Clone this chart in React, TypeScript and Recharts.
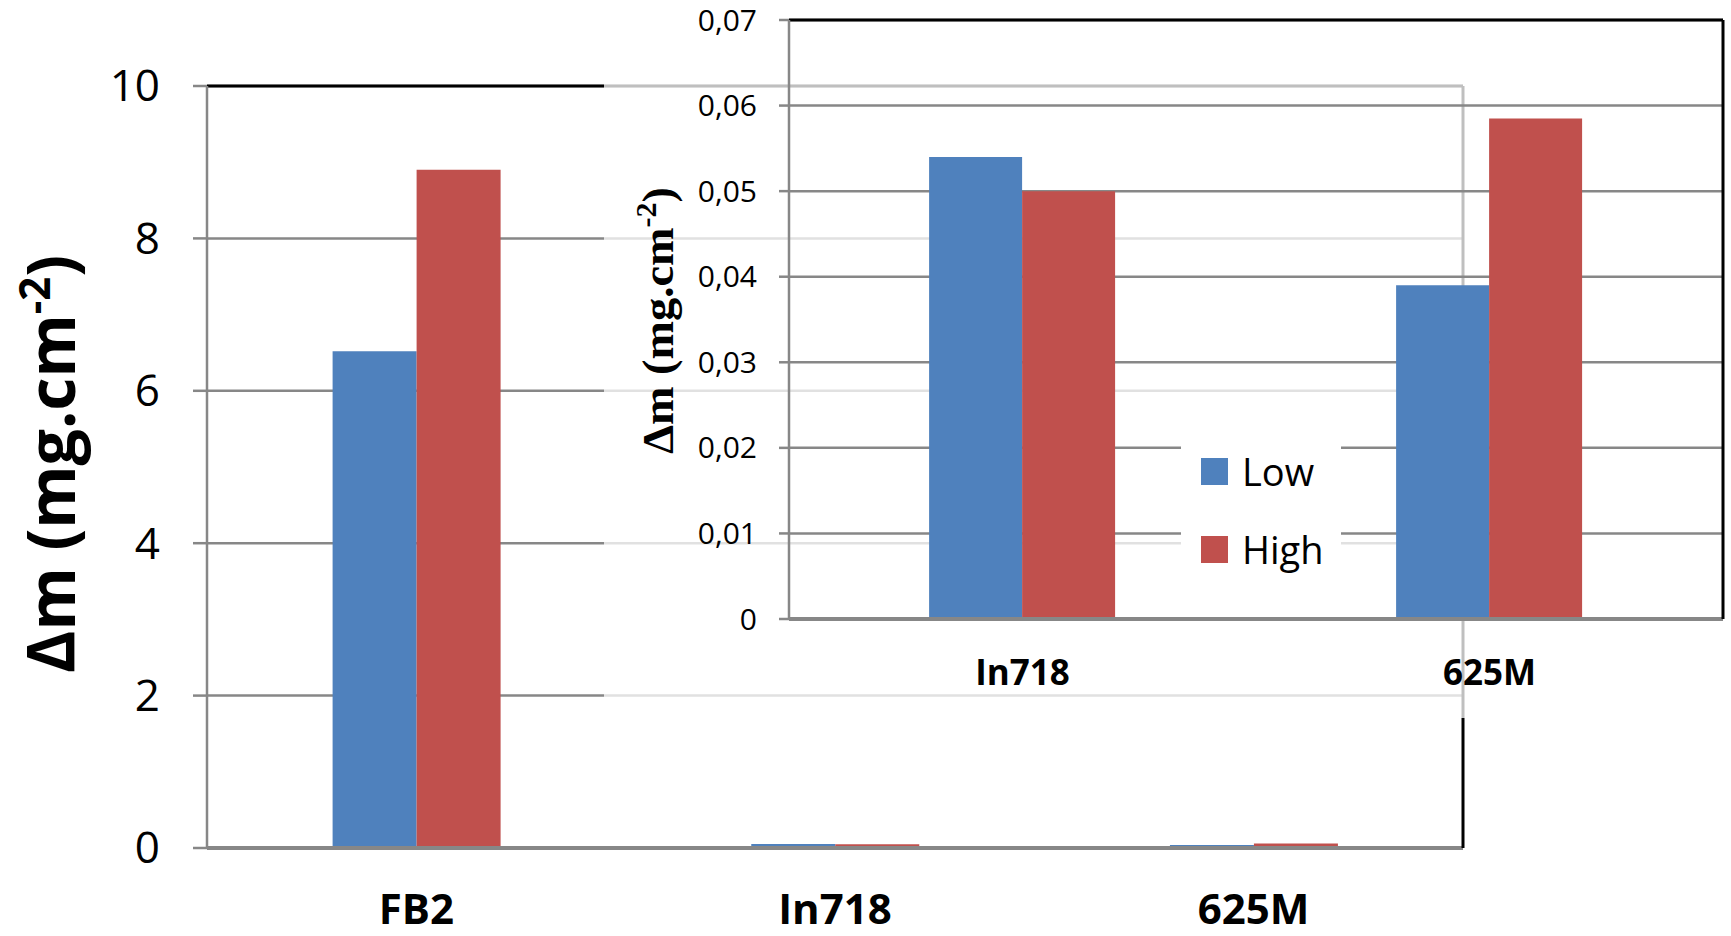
import React from 'react'
import { Bar, BarChart, CartesianGrid, XAxis, YAxis } from 'recharts'

// main chart
const categories = ['FB2', 'In718', '625M']
const lowValues = [6.52, 0.054, 0.039]
const highValues = [8.9, 0.05, 0.058]
const mainTicks = [0, 2, 4, 6, 8, 10]

// inset (zoom on the small alloys)
const insetCategories = ['In718', '625M']
const insetLow = [0.054, 0.039]
const insetHigh = [0.05, 0.0585]
const insetTicks = [0, 0.01, 0.02, 0.03, 0.04, 0.05, 0.06, 0.07]

const series = [
  { key: 'low', name: 'Low', color: '#4F81BD' },
  { key: 'high', name: 'High', color: '#C0504D' },
]

const mainData = categories.map((name, i) => ({ name, low: lowValues[i], high: highValues[i] }))
const insetData = insetCategories.map((name, i) => ({ name, low: insetLow[i], high: insetHigh[i] }))

const SANS = "'Open Sans', sans-serif"
const GRID = '#878787'

const MainYTick = (p: any) => (
  <text x={p.x} y={p.y} dy="0.35em" textAnchor="end" fontSize={44} fontFamily={SANS} fill="#000">
    {p.payload.value}
  </text>
)

const MainXTick = (p: any) => (
  <text x={p.x} y={p.y + 76} textAnchor="middle" fontSize={42} fontWeight="bold" fontFamily={SANS} fill="#000">
    {p.payload.value}
  </text>
)

const InsetYTick = (p: any) => {
  const v = p.payload.value
  const label = v === 0 ? '0' : v.toFixed(2).replace('.', ',')
  return (
    <text x={p.x} y={p.y} dy="0.35em" textAnchor="end" fontSize={30} fontFamily={SANS} fill="#000">
      {label}
    </text>
  )
}

const InsetXTick = (p: any) => (
  <text x={p.x} y={p.y + 66} textAnchor="middle" fontSize={35} fontWeight="bold" fontFamily={SANS} fill="#000">
    {p.payload.value}
  </text>
)

const RotatedLabel = ({ cx, cy, size, len, family }: any) => (
  <text
    x={cx}
    y={cy}
    transform={`rotate(-90, ${cx}, ${cy})`}
    textAnchor="middle"
    fontSize={size}
    fontWeight="bold"
    fontFamily={family}
    fill="#000"
    textLength={len}
    lengthAdjust="spacingAndGlyphs"
  >
    <tspan>Δm (mg.cm</tspan>
    <tspan dy={-size * 0.38} fontSize={size * 0.65}>-2</tspan>
    <tspan dy={size * 0.38}>)</tspan>
  </text>
)

const MainYLabel = (p: any) => {
  const vb = p.viewBox
  return <RotatedLabel cx={vb.x + 75} cy={vb.y + vb.height / 2 - 3} size={66} len={418} family={SANS} />
}

const InsetYLabel = (p: any) => {
  const vb = p.viewBox
  return (
    <RotatedLabel
      cx={vb.x + 69}
      cy={vb.y + vb.height / 2 + 1}
      size={45}
      len={267}
      family="'Liberation Serif', 'Times New Roman', serif"
    />
  )
}

const InsetLegend = () => (
  <div
    style={{
      position: 'absolute',
      left: 577,
      top: 440,
      width: 160,
      height: 134,
      background: '#fff',
      fontFamily: SANS,
      fontSize: 38,
      color: '#000',
    }}
  >
    {series.map((s, i) => (
      <div
        key={s.key}
        style={{
          position: 'absolute',
          left: 20,
          top: 18 + i * 78,
          display: 'flex',
          alignItems: 'center',
          height: 27,
        }}
      >
        <div style={{ width: 27, height: 27, background: s.color, marginRight: 14 }} />
        <span style={{ lineHeight: '27px' }}>{s.name}</span>
      </div>
    ))}
  </div>
)

export default function App() {
  return (
    <div style={{ position: 'absolute', left: 0, top: 0, width: 1731, height: 936, background: '#fff' }}>
      <div style={{ position: 'absolute', left: 0, top: 0 }}>
        <BarChart
          width={1731}
          height={936}
          data={mainData}
          margin={{ top: 85, right: 267, bottom: 0, left: 0 }}
          barCategoryGap="30%"
          barGap={0}
        >
          <CartesianGrid vertical={false} stroke={GRID} strokeWidth={2.5} />
          <XAxis
            dataKey="name"
            height={88}
            interval={0}
            tickLine={false}
            tickSize={0}
            tickMargin={0}
            axisLine={{ stroke: GRID, strokeWidth: 4 }}
            tick={MainXTick}
          />
          <XAxis xAxisId="top" orientation="top" dataKey="name" height={1} tick={false} tickLine={false} axisLine={{ stroke: '#000', strokeWidth: 3 }} />
          <YAxis
            width={207}
            domain={[0, 10]}
            ticks={mainTicks}
            interval={0}
            tickSize={14}
            tickMargin={33}
            tickLine={{ stroke: GRID, strokeWidth: 2.5 }}
            axisLine={{ stroke: GRID, strokeWidth: 2.5 }}
            tick={MainYTick}
            label={MainYLabel}
          />
          <YAxis yAxisId="right" orientation="right" width={1} tick={false} tickLine={false} axisLine={{ stroke: '#000', strokeWidth: 3 }} />
          {series.map((s) => (
            <Bar key={s.key} dataKey={s.key} name={s.name} fill={s.color} isAnimationActive={false} />
          ))}
        </BarChart>
      </div>

      <div style={{ position: 'absolute', left: 604, top: 0, width: 1127, height: 718, background: 'rgba(255,255,255,0.75)' }}>
        <BarChart
          width={1127}
          height={718}
          data={insetData}
          margin={{ top: 19, right: 7, bottom: 0, left: 0 }}
          barCategoryGap="30%"
          barGap={0}
        >
          <CartesianGrid vertical={false} stroke={GRID} strokeWidth={2.5} />
          <XAxis
            dataKey="name"
            height={99}
            interval={0}
            tickLine={false}
            tickSize={0}
            tickMargin={0}
            axisLine={{ stroke: GRID, strokeWidth: 4 }}
            tick={InsetXTick}
          />
          <XAxis xAxisId="top" orientation="top" dataKey="name" height={1} tick={false} tickLine={false} axisLine={{ stroke: '#000', strokeWidth: 3 }} />
          <YAxis
            width={185}
            domain={[0, 0.07]}
            ticks={insetTicks}
            interval={0}
            tickSize={10}
            tickMargin={22}
            tickLine={{ stroke: GRID, strokeWidth: 2.5 }}
            axisLine={{ stroke: GRID, strokeWidth: 2.5 }}
            tick={InsetYTick}
            label={InsetYLabel}
          />
          <YAxis yAxisId="right" orientation="right" width={1} tick={false} tickLine={false} axisLine={{ stroke: '#000', strokeWidth: 3 }} />
          {series.map((s) => (
            <Bar key={s.key} dataKey={s.key} name={s.name} fill={s.color} isAnimationActive={false} />
          ))}
        </BarChart>
        <InsetLegend />
      </div>
    </div>
  )
}
